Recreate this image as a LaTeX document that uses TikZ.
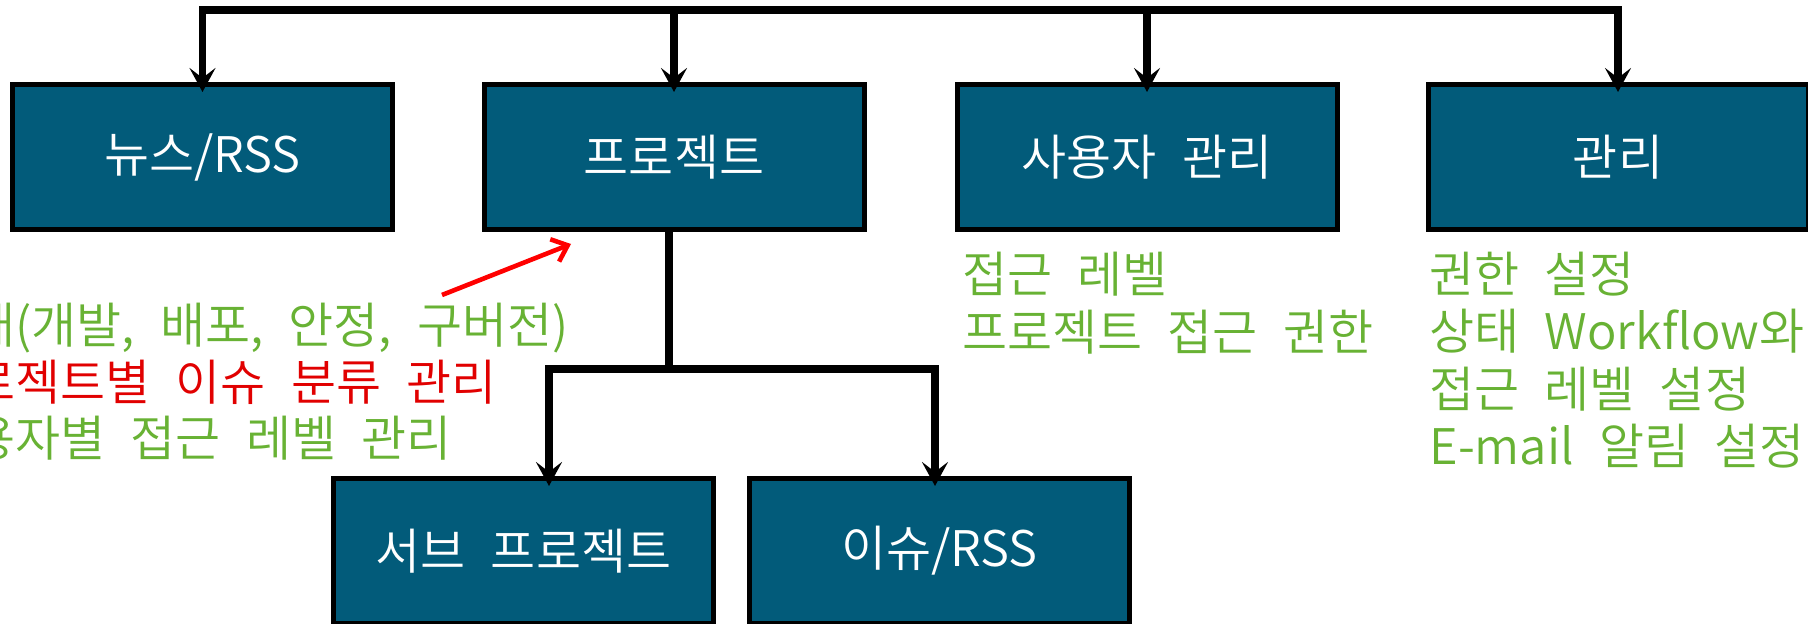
\documentclass[tikz,border=0pt]{standalone}
\usepackage{fontspec}
\setmainfont{Noto Sans CJK KR}[UprightFont=* DemiLight, WordSpace=2.3]
\usetikzlibrary{arrows.meta}
\definecolor{boxfill}{RGB}{2,91,122}
\definecolor{txtgreen}{RGB}{104,178,52}
\definecolor{txtred}{RGB}{225,0,0}
\begin{document}
\begin{tikzpicture}[x=0.5pt,y=-0.5pt,
  box/.style={draw=black, line width=2.5pt, fill=boxfill, minimum width=190pt, minimum height=72.5pt,
    text=white, font=\fontsize{24.5}{28}\selectfont, inner sep=0pt},
  link/.style={line width=3.6pt, line cap=rect},
  arr/.style={line width=3.6pt, -{Stealth[length=12pt,width=13pt,inset=5pt]}, shorten >=-5pt},
  note/.style={anchor=base west, inner sep=0pt, font=\fontsize{24.5}{28}\selectfont},
  green/.style={note, text=txtgreen},
  redtxt/.style={note, text=txtred}]
\useasboundingbox (0,0) rectangle (1808,624);
\clip (0,0) rectangle (1808,624);
\fill[white] (0,0) rectangle (1808,624);
% top row boxes
\node[box] (news)  at (202.5,157) {뉴스/RSS};
\node[box] (proj)  at (674,157)   {프로젝트};
\node[box] (user)  at (1147,157)  {사용자 관리};
\node[box] (admin) at (1618,157)  {관리};
% bottom row boxes
\node[box] (sub)   at (523.5,551) {서브 프로젝트};
\node[box] (issue) at (939.5,551) {이슈/RSS};
% top bus
\coordinate (bus) at (0,10);
\draw[link] (news.north |- bus) -- (admin.north |- bus);
\draw[arr] (news.north |- bus) -- (news.north);
\draw[arr] (proj.north |- bus) -- (proj.north);
\draw[arr] (user.north |- bus) -- (user.north);
\draw[arr] (admin.north |- bus) -- (admin.north);
% sub tree
\coordinate (pj) at (669,369);
\coordinate (j1) at (549,369);
\coordinate (j2) at (935,369);
\draw[link] (proj.south -| pj) -- (pj);
\draw[link] (j1) -- (j2);
\draw[arr] (j1) -- (j1 |- sub.north);
\draw[arr] (j2) -- (j2 |- issue.north);
% left notes
\node[green]  (l1) at (-75,344) {상태(개발, 배포, 안정, 구버전)};
\node[redtxt] (l2) at (-75,401) {프로젝트별 이슈 분류 관리};
\node[green]  (l3) at (-75,457) {사용자별 접근 레벨 관리};
\coordinate (rs) at (442,295);
\coordinate (re) at (571,244);
\draw[red, line width=2.3pt, -{Straight Barb[length=7pt,width=12pt]}] (rs) -- (re);
% middle notes
\node[green] (m1) at (962,293) {접근 레벨};
\node[green] (m2) at (962,351) {프로젝트 접근 권한};
% right notes
\node[green] (r1) at (1429,293) {권한 설정};
\node[green] (r2) at (1429,350) {상태 Workflow와};
\node[green] (r3) at (1429,408) {접근 레벨 설정};
\node[green] (r4) at (1429,465) {E-mail 알림 설정};
\end{tikzpicture}
\end{document}
